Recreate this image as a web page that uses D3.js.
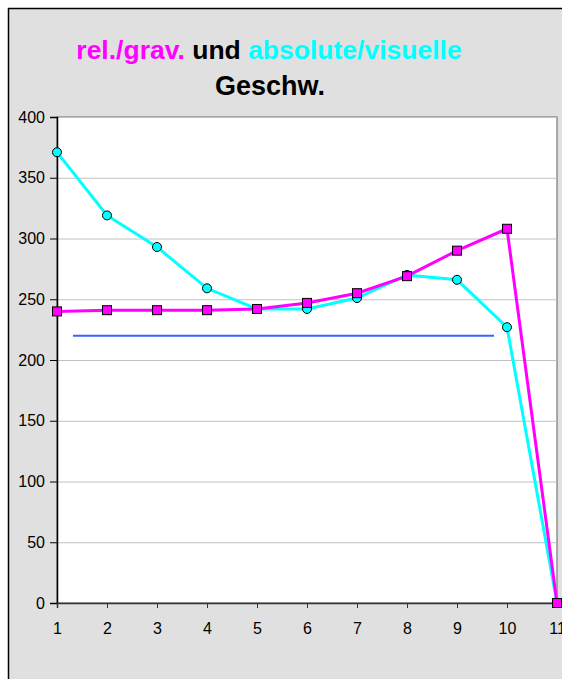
<!DOCTYPE html>
<html><head><meta charset="utf-8">
<script src="https://cdn.jsdelivr.net/npm/d3@7"></script>
<style>html,body{margin:0;padding:0;background:#fff;}</style>
</head><body>
<svg id="c" width="562" height="679"></svg>
<script>
const xCats = [1,2,3,4,5,6,7,8,9,10,11];
const relGrav = [240,241,241,241,242,247,255,269,290,308,0];
const absVis = [371,319,293,259,242,242,251,270,266,227,0];
const refLineX = [1.32, 9.74];
const refLineY = 220;
const yTicks = [0,50,100,150,200,250,300,350,400];

const svg = d3.select("#c");
svg.append("rect").attr("x",8.5).attr("y",8.5).attr("width",600).attr("height",700)
  .attr("fill","#e0e0e0").attr("stroke","#000").attr("stroke-width",1.5);

const L=57, R=557, T=117, B=603;
const x = d3.scaleLinear().domain([1,11]).range([L,R]);
const y = d3.scaleLinear().domain([0,400]).range([B,T]);

svg.append("rect").attr("x",L).attr("y",T).attr("width",R-L).attr("height",B-T)
  .attr("fill","#fff").attr("stroke","#909090").attr("stroke-width",1.5);

// gridlines
svg.append("g").selectAll("line").data(yTicks.filter(d=>d>0)).join("line")
  .attr("x1",L).attr("x2",R).attr("y1",d=>y(d)+0.5).attr("y2",d=>y(d)+0.5)
  .attr("stroke","#c0c0c0").attr("stroke-width",1);

// axes
const font = "Arial, 'Liberation Sans', sans-serif";
const yAxis = svg.append("g").attr("transform",`translate(${L},0)`)
  .call(d3.axisLeft(y).tickValues(yTicks).tickSize(7).tickPadding(5).tickFormat(d3.format("d")));
yAxis.select(".domain").attr("stroke","#000").attr("stroke-width",1.5);
yAxis.selectAll(".tick line").attr("stroke","#000");
yAxis.selectAll("text").attr("font-family",font).attr("font-size",16).attr("fill","#000");

const xAxis = svg.append("g").attr("transform",`translate(0,${B})`)
  .call(d3.axisBottom(x).tickValues(xCats).tickSize(5).tickPadding(15).tickFormat(d3.format("d")));
xAxis.select(".domain").attr("stroke","#333").attr("stroke-width",1.5);
xAxis.selectAll(".tick line").attr("stroke","#333");
xAxis.selectAll("text").attr("font-family",font).attr("font-size",16).attr("fill","#000");

// reference line
svg.append("line").attr("x1",x(refLineX[0])).attr("x2",x(refLineX[1]))
  .attr("y1",y(refLineY)).attr("y2",y(refLineY))
  .attr("stroke","#3366ff").attr("stroke-width",2);

const line = d3.line().x((d,i)=>x(xCats[i])).y(d=>y(d));

svg.append("path").datum(absVis).attr("d",line).attr("fill","none")
  .attr("stroke","#00ffff").attr("stroke-width",3);
svg.append("path").datum(relGrav).attr("d",line).attr("fill","none")
  .attr("stroke","#ff00ff").attr("stroke-width",3);

svg.append("g").selectAll("circle").data(absVis).join("circle")
  .attr("cx",(d,i)=>x(xCats[i])).attr("cy",d=>y(d)).attr("r",4.5)
  .attr("fill","#00ffff").attr("stroke","#000").attr("stroke-width",1);
svg.append("g").selectAll("rect").data(relGrav).join("rect")
  .attr("x",(d,i)=>x(xCats[i])-4.5).attr("y",d=>y(d)-4.5).attr("width",9).attr("height",9)
  .attr("fill","#ff00ff").attr("stroke","#000").attr("stroke-width",1);

// title
const t1 = svg.append("text").attr("x",269).attr("y",59).attr("text-anchor","middle")
  .attr("font-family",font).attr("font-weight","bold").attr("font-size",26.5);
t1.append("tspan").attr("fill","#ff00ff").text("rel./grav.");
t1.append("tspan").attr("fill","#000").text(" und ");
t1.append("tspan").attr("fill","#00ffff").text("absolute/visuelle");
svg.append("text").attr("x",270).attr("y",95).attr("text-anchor","middle")
  .attr("font-family",font).attr("font-weight","bold").attr("font-size",27)
  .attr("fill","#000").text("Geschw.");
</script>
</body></html>
